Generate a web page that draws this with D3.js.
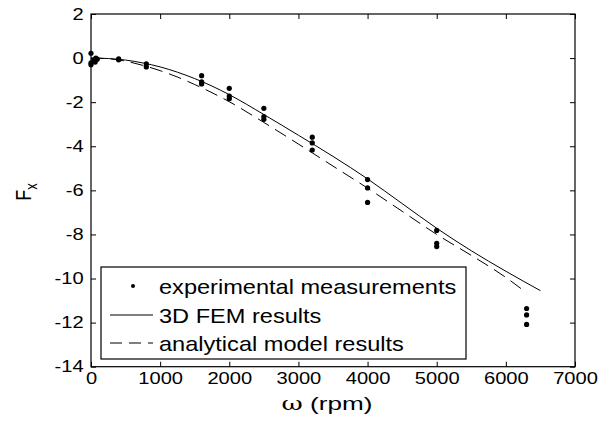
<!DOCTYPE html>
<html>
<head>
<meta charset="utf-8">
<script src="https://cdnjs.cloudflare.com/ajax/libs/d3/7.8.5/d3.min.js"></script>
<style>
  body { margin: 0; background: #fff; }
  text { font-family: "Liberation Sans", Arial, sans-serif; fill: #000; }
</style>
</head>
<body>
<script>
// measured points (rpm, Fx)
const expW = [0, 0, 0, 40, 70, 90, 60, 400, 400, 800, 800,
  1600, 1600, 1600, 2000, 2000, 2000, 2500, 2500, 2500,
  3200, 3200, 3200, 4000, 4000, 4000, 5000, 5000, 5000, 6300, 6300, 6300];
const expF = [0.22, -0.22, -0.3, -0.1, 0.0, -0.05, -0.18, -0.04, -0.08, -0.26, -0.4,
  -0.8, -1.08, -1.17, -1.37, -1.72, -1.84, -2.28, -2.65, -2.78,
  -3.59, -3.85, -4.17, -5.51, -5.89, -6.55, -7.82, -8.4, -8.55, -11.36, -11.65, -12.08];

// 3D FEM curve
const femW = [0, 250, 500, 750, 1000, 1250, 1500, 1750, 2000, 2500, 3000, 3500, 4000, 4500, 5000, 5500, 6000, 6500];
const femF = [0, -0.02, -0.09, -0.22, -0.4, -0.64, -0.93, -1.27, -1.66, -2.56, -3.5, -4.46, -5.48, -6.6, -7.72, -8.74, -9.67, -10.55];

// analytical model curve
const anaW = [0, 250, 500, 750, 1000, 1250, 1500, 1750, 2000, 2500, 3000, 3500, 4000, 4500, 5000, 5500, 6000, 6300];
const anaF = [0, -0.03, -0.14, -0.33, -0.57, -0.86, -1.2, -1.57, -1.98, -2.92, -3.9, -4.9, -5.9, -6.95, -8.0, -8.95, -9.95, -10.65];

const xTicks = [0, 1000, 2000, 3000, 4000, 5000, 6000, 7000];
const yTicks = [2, 0, -2, -4, -6, -8, -10, -12, -14];
const legendLabels = ["experimental measurements", "3D FEM results", "analytical model results"];

const w = 614, h = 421;
const padL = 91, padR = 575, padT = 14, padB = 366.7;

const svg = d3.select("body").append("svg")
  .attr("width", w)
  .attr("height", h);

const x = d3.scaleLinear().domain([0, 7000]).range([padL, padR]);
const y = d3.scaleLinear().domain([-14, 2]).range([padB, padT]);

// inward ticks on all four sides, matlab style
const tick = 5;
const fmt = d => String(d);
const xAxis = d3.axisBottom(x).tickValues(xTicks).tickFormat(fmt).tickSizeInner(-tick).tickSizeOuter(0).tickPadding(10);
const yAxis = d3.axisLeft(y).tickValues(yTicks).tickFormat(fmt).tickSizeInner(-tick).tickSizeOuter(0).tickPadding(7);

const gx = svg.append("g").attr("transform", "translate(0," + padB + ")").call(xAxis);
const gy = svg.append("g").attr("transform", "translate(" + padL + ",0)").call(yAxis);
svg.append("g").attr("transform", "translate(0," + padT + ")")
  .call(d3.axisTop(x).tickValues(xTicks).tickSizeInner(-tick).tickSizeOuter(0).tickFormat(""));
svg.append("g").attr("transform", "translate(" + padR + ",0)")
  .call(d3.axisRight(y).tickValues(yTicks).tickSizeInner(-tick).tickSizeOuter(0).tickFormat(""));

svg.selectAll(".domain").remove();
svg.selectAll(".tick line").attr("stroke", "#000");

// labels look stretched sideways in the original
gx.selectAll("text").attr("font-size", 16.5).attr("dy", "0.45em")
  .attr("transform", "scale(1.22,1)");
gy.selectAll("text").attr("font-size", 16.5)
  .attr("transform", "scale(1.22,1)").attr("x", -6);

svg.append("rect")
  .attr("x", padL).attr("y", padT)
  .attr("width", padR - padL).attr("height", padB - padT)
  .attr("fill", "none").attr("stroke", "#000").attr("stroke-width", 1.2);

const line = d3.line().x(d => x(d[0])).y(d => y(d[1])).curve(d3.curveMonotoneX);

svg.append("path")
  .datum(d3.zip(femW, femF))
  .attr("d", line)
  .attr("fill", "none").attr("stroke", "#000").attr("stroke-width", 1);

svg.append("path")
  .datum(d3.zip(anaW, anaF))
  .attr("d", line)
  .attr("fill", "none").attr("stroke", "#000").attr("stroke-width", 1)
  .attr("stroke-dasharray", "13,7");

svg.selectAll("circle.pt")
  .data(d3.zip(expW, expF))
  .enter().append("circle")
  .attr("class", "pt")
  .attr("cx", d => x(d[0]))
  .attr("cy", d => y(d[1]))
  .attr("r", 2.6)
  .attr("fill", "#000");

// legend
const lg = svg.append("g");
lg.append("rect")
  .attr("x", 101).attr("y", 267).attr("width", 365).attr("height", 92)
  .attr("fill", "#fff").attr("stroke", "#000").attr("stroke-width", 1.2);
const rowY = [286, 315, 343];
lg.append("circle").attr("cx", 133).attr("cy", rowY[0]).attr("r", 2).attr("fill", "#000");
lg.append("line").attr("x1", 110).attr("x2", 153).attr("y1", rowY[1]).attr("y2", rowY[1]).attr("stroke", "#000");
lg.append("line").attr("x1", 110).attr("x2", 153).attr("y1", rowY[2]).attr("y2", rowY[2])
  .attr("stroke", "#000").attr("stroke-dasharray", "12,7");
lg.selectAll("text.lab")
  .data(legendLabels)
  .enter().append("text")
  .attr("class", "lab")
  .attr("transform", (d, i) => "translate(159," + (rowY[i] + 7.5) + ") scale(1.15,1)")
  .attr("font-size", 20.5)
  .text(d => d);

// axis labels
svg.append("text")
  .attr("transform", "translate(327,410) scale(1.45,1)")
  .attr("text-anchor", "middle")
  .attr("font-size", 18)
  .html('<tspan font-family="DejaVu Serif">ω</tspan> (rpm)');

svg.append("text")
  .attr("transform", "translate(31,192) scale(1.25,1) rotate(-90)")
  .attr("text-anchor", "middle")
  .attr("font-size", 18)
  .html('F<tspan font-size="13" dy="5">x</tspan>');
</script>
</body>
</html>
